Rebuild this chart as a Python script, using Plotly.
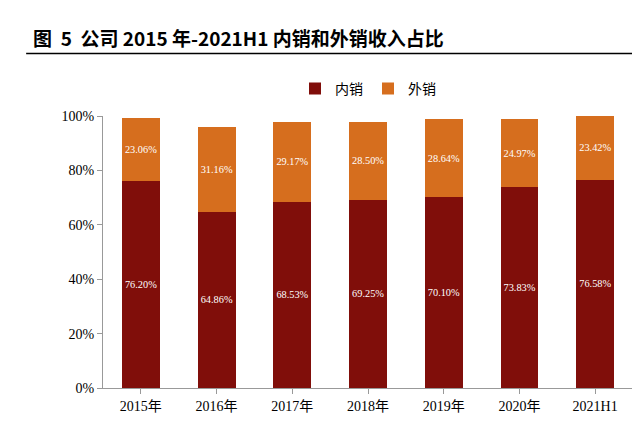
import plotly.graph_objects as go

years = ['2015年', '2016年', '2017年', '2018年', '2019年', '2020年', '2021H1']
domestic = [76.20, 64.86, 68.53, 69.25, 70.10, 73.83, 76.58]
overseas = [23.06, 31.16, 29.17, 28.50, 28.64, 24.97, 23.42]

c_dom = 'rgb(128,14,10)'
c_ovs = 'rgb(214,110,30)'
serif = 'Liberation Serif, Noto Sans CJK SC'

def bar(vals, name, color):
    return go.Bar(
        x=years, y=vals, name=name,
        marker=dict(color=color, line=dict(width=0)),
        text=['%.2f%%' % v for v in vals],
        textposition='inside', insidetextanchor='middle', textangle=0,
        textfont=dict(color='white', size=12, family=serif),
        width=0.5,
    )

fig = go.Figure([bar(domestic, '内销', c_dom), bar(overseas, '外销', c_ovs)])
fig.update_layout(
    barmode='stack',
    width=640, height=425,
    margin=dict(l=95, r=15, t=108, b=45, autoexpand=False),
    paper_bgcolor='white', plot_bgcolor='white',
    font=dict(family=serif, size=14, color='black'),
    showlegend=True,
    legend=dict(orientation='h', x=0.5, xanchor='center', y=1.1, yanchor='middle',
                traceorder='normal', font=dict(size=14, family='Noto Sans CJK SC')),
    xaxis=dict(showline=True, linecolor='#999', ticks='outside', tickcolor='#999',
               ticklen=5, tickfont=dict(size=14, family=serif)),
    yaxis=dict(range=[0, 100], dtick=20, ticksuffix='%', showgrid=False,
               showline=True, linecolor='#999', ticks='outside', tickcolor='#999',
               ticklen=5, tickfont=dict(size=14, family=serif)),
    annotations=[dict(
        text='<b>图  5  公司 2015 年-2021H1 内销和外销收入占比</b>',
        xref='paper', yref='paper', x=-0.135, y=1.287, xanchor='left', yanchor='middle',
        showarrow=False, font=dict(size=19, family='Noto Sans CJK SC', color='black'))],
    shapes=[dict(type='line', xref='paper', yref='paper', x0=-0.145, x1=1.02,
                 y0=1.23, y1=1.23, line=dict(color='black', width=1.5))],
)
fig.write_html('out.html')
